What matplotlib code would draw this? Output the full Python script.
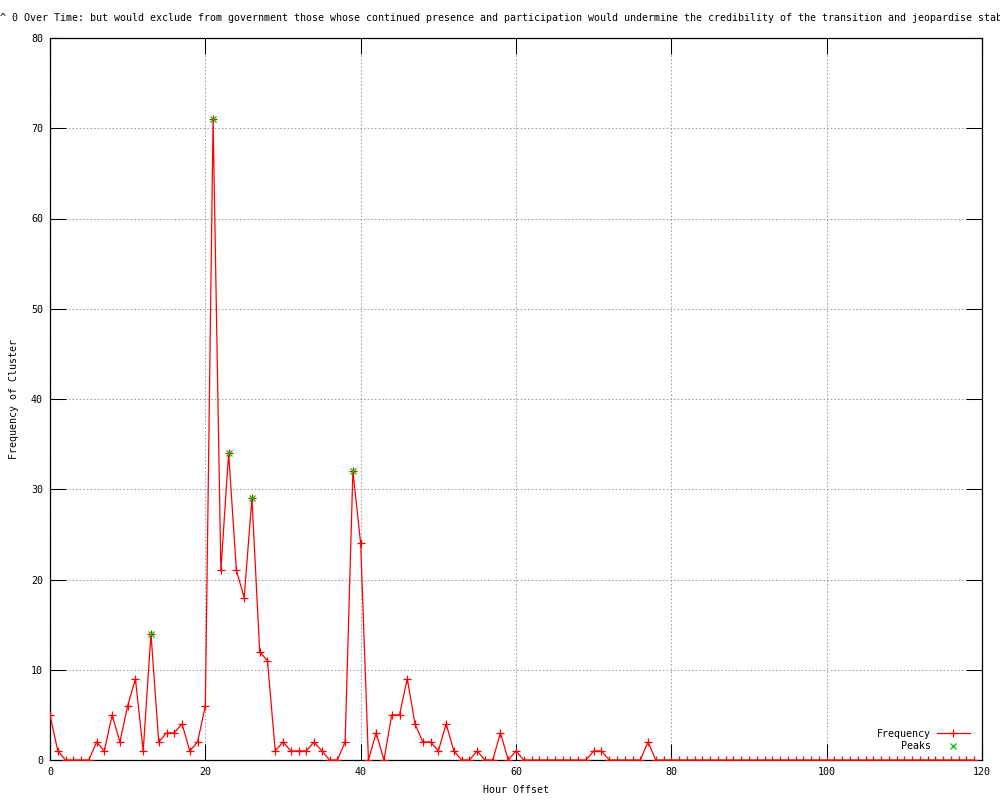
import matplotlib
matplotlib.use("Agg")
import matplotlib.pyplot as plt

hours = list(range(120))
frequency = [5, 1, 0, 0, 0, 0, 2, 1, 5, 2,
             6, 9, 1, 14, 2, 3, 3, 4, 1, 2,
             6, 71, 21, 34, 21, 18, 29, 12, 11, 1,
             2, 1, 1, 1, 2, 1, 0, 0, 2, 32,
             24, 0, 3, 0, 5, 5, 9, 4, 2, 2,
             1, 4, 1, 0, 0, 1, 0, 0, 3, 0,
             1, 0, 0, 0, 0, 0, 0, 0, 0, 0,
             1, 1, 0, 0, 0, 0, 0, 2, 0, 0] + [0] * 40
peak_hours = [13, 21, 23, 26, 39]
peak_values = [14, 71, 34, 29, 32]

title_text = ("^ 0 Over Time: but would exclude from government those whose continued presence "
              "and participation would undermine the credibility of the transition and jeopardise stab")
x_ticks = [0, 20, 40, 60, 80, 100, 120]
y_ticks = [0, 10, 20, 30, 40, 50, 60, 70, 80]

FONT = "DejaVu Sans Mono"
FS = 7.2
plt.rcParams['font.family'] = [FONT]
plt.rcParams['font.size'] = FS

fig = plt.figure(figsize=(10, 8), dpi=100)
ax = fig.add_axes([0.050, 0.05, 0.932, 0.9025])

ax.plot(hours, frequency, color='#ff0000', linewidth=0.9, marker='+',
        markersize=6, markeredgewidth=0.9, label='Frequency', zorder=3)
ax.plot(peak_hours, peak_values, linestyle='none', color='#00c000', marker='x',
        markersize=5, markeredgewidth=0.9, label='Peaks', zorder=4)

ax.set_xlim(0, 120)
ax.set_ylim(0, 80)
ax.set_xticks(x_ticks)
ax.set_yticks(y_ticks)
ax.tick_params(direction='in', length=11.5, width=0.75, top=True, right=True,
               labelsize=FS, colors='black')
ax.tick_params(axis='x', pad=5)
ax.tick_params(axis='y', pad=5)
ax.grid(True, color='#a0a0a0', linestyle=(0, (1.5, 2.0)), linewidth=0.75)
ax.set_axisbelow(True)
for s in ax.spines.values():
    s.set_linewidth(0.9)
    s.set_color('black')

ax.set_xlabel('Hour Offset', fontsize=FS, labelpad=6)
ax.set_ylabel('Frequency of Cluster', fontsize=FS, labelpad=8.5)

fig.text(0.0, 0.978, title_text, ha='left', va='center', fontsize=FS)

leg = ax.legend(loc='lower right', bbox_to_anchor=(0.992, 0.005), markerfirst=False,
                frameon=False, handlelength=3.3, handletextpad=0.6,
                labelspacing=0.25, borderpad=0, fontsize=FS)

fig.savefig('out.png', dpi=100)
